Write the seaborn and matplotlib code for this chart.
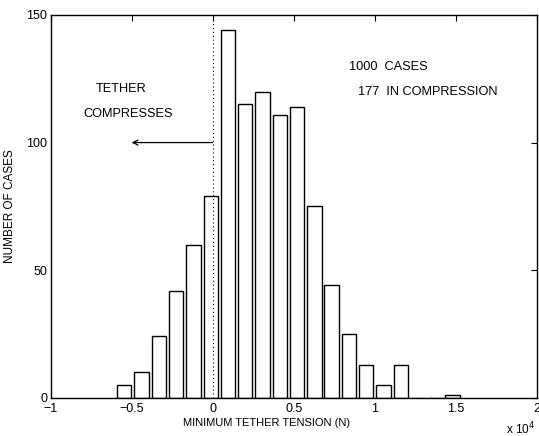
import matplotlib
matplotlib.use("Agg")
import matplotlib.pyplot as plt
import seaborn as sns
import numpy as np
import pandas as pd

# ---- data (tension in units of 1e4 N) ----
bin_centers = [-0.545, -0.438, -0.332, -0.225, -0.119, -0.012, 0.095, 0.201,
               0.308, 0.414, 0.521, 0.628, 0.734, 0.841, 0.947, 1.054,
               1.161, 1.267, 1.374, 1.480]
case_counts = [5, 10, 24, 42, 60, 79, 144, 115, 120, 111, 114, 75, 44, 25,
               13, 5, 13, 0, 0, 1]
x_ticks = [-1, -0.5, 0, 0.5, 1, 1.5, 2]
x_tick_labels = ["\u22121", "\u22120.5", "0", "0.5", "1", "1.5", "2"]
y_ticks = [0, 50, 100, 150]

df = pd.DataFrame({"tension": bin_centers, "count": case_counts})
bw = bin_centers[1] - bin_centers[0]
edges = [c - bw / 2 for c in bin_centers] + [bin_centers[-1] + bw / 2]

sns.set_style("white", {"xtick.direction": "in", "ytick.direction": "in"})
plt.rcParams["font.family"] = ["Liberation Sans", "DejaVu Sans"]
plt.rcParams["axes.unicode_minus"] = True
plt.rcParams["text.color"] = "black"
plt.rcParams["axes.labelcolor"] = "black"

fig = plt.figure(figsize=(5.39, 4.36), dpi=100)
ax = fig.add_axes([50.5 / 539, 1 - 397.7 / 436, (537 - 50.5) / 539, (397.7 - 15) / 436])

sns.histplot(data=df, x="tension", weights="count", bins=edges, shrink=0.83,
             fill=True, color="white", edgecolor="black", linewidth=1.0,
             alpha=1.0, ax=ax)

ax.set_xlim(-1, 2)
ax.set_ylim(0, 150)
ax.set_xticks(x_ticks)
ax.set_xticklabels(x_tick_labels)
ax.set_yticks(y_ticks)
ax.tick_params(axis="both", which="both", direction="in", length=4.5, width=0.8,
               top=True, right=True, labelsize=9, colors="black", pad=2.5)
ax.tick_params(axis="x", pad=4)
for s in ax.spines.values():
    s.set_visible(True)
    s.set_color("black")
    s.set_linewidth(1.0)

ax.axvline(0, color="black", linestyle=(0, (1, 2.5)), linewidth=0.8, zorder=3)

ax.annotate("", xy=(-0.5, 100), xytext=(0, 100),
            arrowprops=dict(arrowstyle="->", color="black", lw=0.9,
                            mutation_scale=9, shrinkA=0, shrinkB=0))

tfs = 9.2
ax.text(-0.719, 121, "TETHER", fontsize=tfs, va="center", ha="left")
ax.text(-0.80, 111.2, "COMPRESSES", fontsize=tfs, va="center", ha="left")
ax.text(0.84, 129.6, "1000  CASES", fontsize=tfs, va="center", ha="left")
ax.text(0.896, 119.8, "177  IN COMPRESSION", fontsize=tfs, va="center", ha="left")

ax.set_xlabel("MINIMUM TETHER TENSION (N)", fontsize=8.0, color="black")
ax.xaxis.set_label_coords((267 - 50.5) / 486.5, -0.054)
ax.set_ylabel("NUMBER OF CASES", fontsize=8.5, labelpad=7, color="black")

fig.text(535 / 539, 1 - 429 / 436, "x 10$^4$", fontsize=8.5, ha="right", va="center")

fig.savefig("out.png", dpi=100)
